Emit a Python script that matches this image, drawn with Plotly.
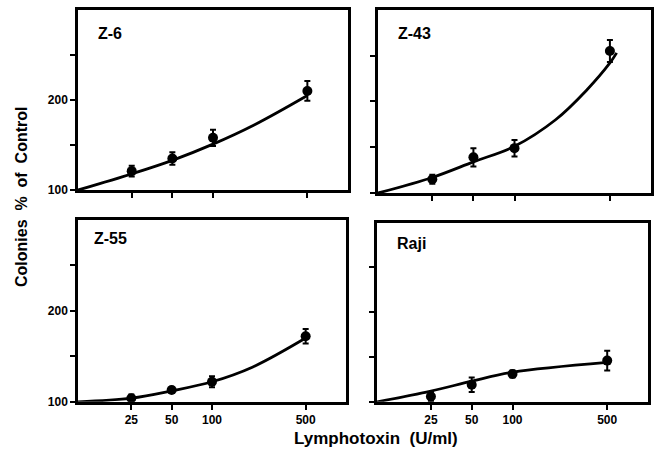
import plotly.graph_objects as go

# ---- data ----
dose = [25, 50, 100, 500]

z6_mean = [121, 135, 158, 210]
z6_err = [6, 7, 9, 11]
z43_mean = [115, 139, 149, 255]
z43_err = [5, 10, 9, 12]
z55_mean = [104, 113, 122, 172]
z55_err = [4, 3, 6, 8]
raji_mean = [106, 119, 131, 146]
raji_err = [5, 8, 4, 11]

z6_fit_x = [10, 25, 50, 100, 200, 500]
z6_fit_y = [100, 118, 133, 151, 172, 205]
z43_fit_x = [10, 25, 50, 100, 200, 336, 500, 560]
z43_fit_y = [100, 117, 134, 151, 180, 212, 242, 253]
z55_fit_x = [10, 25, 50, 100, 200, 500]
z55_fit_y = [100, 104, 112, 122, 138, 170]
raji_fit_x = [10, 25, 50, 100, 500]
raji_fit_y = [100, 112, 123, 133, 144]

panel_names = ["Z-6", "Z-43", "Z-55", "Raji"]
x_tick_vals = [25, 50, 100, 500]
x_tick_text = ["25", "50", "100", "500"]
y_tick_vals = [100, 150, 200, 250]
y_tick_text = ["100", "", "200", ""]

W, H = 655, 462
FONT = "Liberation Sans, Arial, Helvetica, sans-serif"

panels = [
    (z6_mean, z6_err, z6_fit_x, z6_fit_y),
    (z43_mean, z43_err, z43_fit_x, z43_fit_y),
    (z55_mean, z55_err, z55_fit_x, z55_fit_y),
    (raji_mean, raji_err, raji_fit_x, raji_fit_y),
]

# pixel boxes (left, right, top, bottom)
boxes = [
    (78, 348, 10, 193),
    (378, 651, 10, 196),
    (78, 346, 223, 408),
    (377, 648, 226, 408),
]

fig = go.Figure()
layout = dict(
    width=W, height=H,
    margin=dict(l=0, r=0, t=0, b=0),
    paper_bgcolor="white", plot_bgcolor="white",
    showlegend=False,
    font=dict(family=FONT, color="black"),
)

for i, ((mean, err, fx, fy), (l, r, t, b)) in enumerate(zip(panels, boxes)):
    n = i + 1
    xa = "x" if n == 1 else f"x{n}"
    ya = "y" if n == 1 else f"y{n}"
    fig.add_trace(go.Scatter(
        x=fx, y=fy, mode="lines", xaxis=xa, yaxis=ya,
        line=dict(color="black", width=2.8, shape="spline", smoothing=1.0),
        hoverinfo="skip"))
    fig.add_trace(go.Scatter(
        x=dose, y=mean, mode="markers", xaxis=xa, yaxis=ya,
        marker=dict(color="black", size=10),
        error_y=dict(type="data", array=err, color="black", thickness=2, width=3)))
    bottom_row = i >= 2
    left_col = i % 2 == 0
    xkey = "xaxis" if n == 1 else f"xaxis{n}"
    ykey = "yaxis" if n == 1 else f"yaxis{n}"
    layout[xkey] = dict(
        domain=[l / W, r / W], anchor=ya, type="log", range=[1, 3],
        tickvals=x_tick_vals, ticktext=x_tick_text, showticklabels=bottom_row,
        ticks="outside", ticklen=5, tickwidth=2, tickcolor="black",
        showline=True, linewidth=2.5, linecolor="black", mirror=True,
        showgrid=False, zeroline=False,
        tickfont=dict(family=FONT, size=12, color="black", weight="bold"),
    )
    layout[ykey] = dict(
        domain=[1 - b / H, 1 - t / H], anchor=xa, range=[100, 300],
        tickvals=y_tick_vals, ticktext=y_tick_text, showticklabels=left_col,
        ticks="outside", ticklen=5, tickwidth=2, tickcolor="black",
        showline=True, linewidth=2.5, linecolor="black", mirror=True,
        showgrid=False, zeroline=False,
        tickfont=dict(family=FONT, size=12, color="black", weight="bold"),
    )

label_pos = [(96, 34), (396, 34), (92, 242), (395, 247)]
annotations = []
for name, (px, py) in zip(panel_names, label_pos):
    annotations.append(dict(
        text=name, xref="paper", yref="paper", x=px / W, y=1 - py / H,
        xanchor="left", yanchor="middle", showarrow=False,
        font=dict(family=FONT, size=16, color="black", weight="bold")))

annotations.append(dict(
    text="Lymphotoxin\u00a0\u00a0(U/ml)", xref="paper", yref="paper",
    x=376 / W, y=1 - 445 / H, xanchor="center", yanchor="middle",
    showarrow=False,
    font=dict(family=FONT, size=17, color="black", weight="bold")))
annotations.append(dict(
    text="Colonies\u00a0\u00a0%\u00a0\u00a0of\u00a0\u00a0Control", xref="paper", yref="paper",
    x=22 / W, y=1 - 200 / H, xanchor="center", yanchor="middle",
    textangle=-90, showarrow=False,
    font=dict(family=FONT, size=16, color="black", weight="bold")))
layout["annotations"] = annotations

fig.update_layout(**layout)
fig.write_html("out.html")
